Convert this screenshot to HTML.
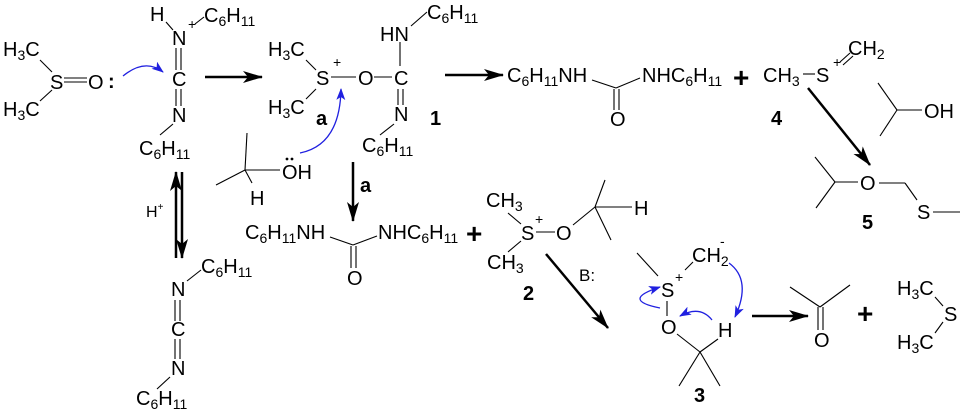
<!DOCTYPE html>
<html><head><meta charset="utf-8"><style>
html,body{margin:0;padding:0;background:#fff}
svg{display:block}
text{font-family:"Liberation Sans",sans-serif;font-size:20px;fill:#000}
tspan.s,text.s{font-size:14px}
.b{font-weight:bold}
line,path.l{stroke:#000;stroke-width:1.1;fill:none}
.bl{stroke:#2020e0;stroke-width:1.3;fill:none}
.ar{stroke:#000;stroke-width:2.5}
</style></head><body>
<svg width="960" height="409" viewBox="0 0 960 409" xmlns="http://www.w3.org/2000/svg">
<defs>
<marker id="ahb" markerWidth="20" markerHeight="12" refX="19" refY="6" orient="auto" markerUnits="userSpaceOnUse"><path d="M0,0 L20,6 L0,12 L5,6 z" fill="#000"/></marker>
<marker id="bh" markerWidth="12" markerHeight="9" refX="11" refY="4.5" orient="auto" markerUnits="userSpaceOnUse"><path d="M0,0 L12,4.5 L0,9 L3,4.5 z" fill="#2020e0"/></marker>
</defs>

<!-- DMSO -->
<text x="3" y="56">H<tspan class="s" dy="4">3</tspan><tspan dy="-4">C</tspan></text>
<text x="3" y="116">H<tspan class="s" dy="4">3</tspan><tspan dy="-4">C</tspan></text>
<line x1="40" y1="60" x2="52" y2="72"/><line x1="40" y1="101" x2="52" y2="90"/>
<text x="50" y="89">S</text>
<line x1="64" y1="78" x2="87" y2="78"/><line x1="64" y1="82" x2="87" y2="82"/>
<text x="88" y="89">O</text>
<text x="108" y="88" class="b">:</text>
<path class="bl" d="M123,76 Q145,58 163,72" marker-end="url(#bh)"/>

<!-- protonated carbodiimide -->
<text x="150" y="21">H</text>
<text x="204" y="22">C<tspan class="s" dy="4">6</tspan><tspan dy="-4">H</tspan><tspan class="s" dy="4">11</tspan></text>
<text x="188" y="29" class="s">+</text>
<line x1="166" y1="22" x2="173" y2="30"/><line x1="195" y1="24" x2="204" y2="17"/>
<text x="172" y="45">N</text>
<line x1="176" y1="48" x2="176" y2="70"/><line x1="181" y1="48" x2="181" y2="70"/>
<text x="172" y="86">C</text>
<line x1="176" y1="89" x2="176" y2="106"/><line x1="181" y1="89" x2="181" y2="106"/>
<text x="172" y="122">N</text>
<line x1="173" y1="124" x2="160" y2="135"/>
<text x="139" y="155">C<tspan class="s" dy="4">6</tspan><tspan dy="-4">H</tspan><tspan class="s" dy="4">11</tspan></text>

<line class="ar" x1="205" y1="77" x2="262" y2="77" marker-end="url(#ahb)"/>

<!-- intermediate 1 -->
<text x="268" y="56">H<tspan class="s" dy="4">3</tspan><tspan dy="-4">C</tspan></text>
<text x="268" y="114">H<tspan class="s" dy="4">3</tspan><tspan dy="-4">C</tspan></text>
<line x1="306" y1="60" x2="316" y2="70"/><line x1="306" y1="99" x2="316" y2="89"/>
<text x="316" y="85">S</text>
<text x="333" y="67" class="s">+</text>
<line x1="331" y1="77" x2="356" y2="77"/>
<text x="358" y="85">O</text>
<line x1="374" y1="77" x2="392" y2="77"/>
<text x="394" y="85">C</text>
<line x1="400" y1="42" x2="400" y2="66"/>
<text x="380" y="41">HN</text>
<line x1="411" y1="26" x2="427" y2="12"/>
<text x="427" y="19">C<tspan class="s" dy="4">6</tspan><tspan dy="-4">H</tspan><tspan class="s" dy="4">11</tspan></text>
<line x1="398" y1="89" x2="398" y2="105"/><line x1="403" y1="89" x2="403" y2="105"/>
<text x="394" y="121">N</text>
<line x1="394" y1="124" x2="380" y2="135"/>
<text x="362" y="152">C<tspan class="s" dy="4">6</tspan><tspan dy="-4">H</tspan><tspan class="s" dy="4">11</tspan></text>
<text x="316" y="125" class="b">a</text>
<text x="430" y="125" class="b">1</text>
<path class="bl" d="M300,153 Q340,145 341,89" marker-end="url(#bh)"/>

<!-- isopropanol -->
<line x1="247" y1="133" x2="245" y2="170"/><line x1="245" y1="170" x2="216" y2="185"/>
<line x1="245" y1="170" x2="280" y2="170"/><line x1="245" y1="170" x2="252" y2="183"/>
<text x="250" y="205">H</text>
<text x="282" y="179">OH</text>
<circle cx="287" cy="159" r="1.4"/><circle cx="292" cy="159" r="1.4"/>

<!-- arrow a -->
<line x1="353" y1="162" x2="353" y2="221" class="ar" marker-end="url(#ahb)"/>
<text x="360" y="192" class="b">a</text>

<!-- equilibrium -->
<line x1="176" y1="258" x2="176" y2="172" class="ar" marker-end="url(#ahb)"/>
<line x1="182" y1="172" x2="182" y2="258" class="ar" marker-end="url(#ahb)"/>
<text x="146" y="217" style="font-size:16px">H<tspan dy="-7" style="font-size:10px">+</tspan></text>

<!-- lower carbodiimide -->
<text x="201" y="273">C<tspan class="s" dy="4">6</tspan><tspan dy="-4">H</tspan><tspan class="s" dy="4">11</tspan></text>
<line x1="187" y1="281" x2="201" y2="270"/>
<text x="171" y="296">N</text>
<line x1="175" y1="300" x2="175" y2="321"/><line x1="180" y1="300" x2="180" y2="321"/>
<text x="171" y="336">C</text>
<line x1="175" y1="339" x2="175" y2="359"/><line x1="180" y1="339" x2="180" y2="359"/>
<text x="171" y="375">N</text>
<line x1="170" y1="377" x2="157" y2="389"/>
<text x="136" y="405">C<tspan class="s" dy="4">6</tspan><tspan dy="-4">H</tspan><tspan class="s" dy="4">11</tspan></text>

<!-- urea middle -->
<text x="245" y="239">C<tspan class="s" dy="4">6</tspan><tspan dy="-4">H</tspan><tspan class="s" dy="4">11</tspan><tspan dy="-4">NH</tspan></text>
<line x1="330" y1="237" x2="353" y2="245"/><line x1="353" y1="245" x2="377" y2="236"/>
<text x="378" y="239">NHC<tspan class="s" dy="4">6</tspan><tspan dy="-4">H</tspan><tspan class="s" dy="4">11</tspan></text>
<line x1="351" y1="246" x2="351" y2="268"/><line x1="356" y1="246" x2="356" y2="268"/>
<text x="347" y="285">O</text>
<text x="466" y="243" class="b" style="font-size:28px">+</text>

<!-- compound 2 -->
<text x="486" y="207">CH<tspan class="s" dy="4">3</tspan></text>
<text x="487" y="269">CH<tspan class="s" dy="4">3</tspan></text>
<line x1="508" y1="213" x2="521" y2="224"/><line x1="508" y1="252" x2="521" y2="241"/>
<text x="521" y="240">S</text>
<text x="535" y="224" class="s">+</text>
<line x1="536" y1="232" x2="555" y2="232"/>
<text x="556" y="240">O</text>
<line x1="573" y1="225" x2="595" y2="207"/>
<line x1="595" y1="207" x2="605" y2="180"/><line x1="595" y1="207" x2="632" y2="207"/><line x1="595" y1="207" x2="611" y2="240"/>
<text x="634" y="215">H</text>
<text x="523" y="300" class="b">2</text>
<line class="ar" x1="546" y1="254" x2="608" y2="328" marker-end="url(#ahb)"/>
<text x="579" y="281" style="font-size:17px">B:</text>

<!-- compound 3 -->
<line x1="637" y1="253" x2="658" y2="276"/>
<text x="661" y="297">S</text>
<text x="675" y="282" class="s">+</text>
<line x1="685" y1="270" x2="693" y2="262"/>
<text x="692" y="262">CH<tspan class="s" dy="4">2</tspan></text>
<text x="720" y="246" class="s">-</text>
<line x1="667" y1="301" x2="667" y2="316"/>
<text x="661" y="334">O</text>
<line x1="677" y1="334" x2="700" y2="352"/><line x1="700" y1="352" x2="718" y2="339"/>
<line x1="700" y1="352" x2="679" y2="386"/><line x1="700" y1="352" x2="720" y2="386"/>
<text x="718" y="337">H</text>
<text x="694" y="402" class="b">3</text>
<path class="bl" d="M660,308 Q620,300 660,287" marker-end="url(#bh)"/>
<path class="bl" d="M712,320 Q700,305 680,316" marker-end="url(#bh)"/>
<path class="bl" d="M729,263 Q752,280 735,317" marker-end="url(#bh)"/>

<line class="ar" x1="752" y1="316" x2="808" y2="316" marker-end="url(#ahb)"/>

<!-- acetone -->
<line x1="790" y1="287" x2="820" y2="307"/><line x1="820" y1="307" x2="850" y2="285"/>
<line x1="818" y1="307" x2="818" y2="330"/><line x1="823" y1="307" x2="823" y2="330"/>
<text x="814" y="347">O</text>
<text x="857" y="323" class="b" style="font-size:28px">+</text>
<text x="897" y="295">H<tspan class="s" dy="4">3</tspan><tspan dy="-4">C</tspan></text>
<text x="897" y="349">H<tspan class="s" dy="4">3</tspan><tspan dy="-4">C</tspan></text>
<line x1="935" y1="297" x2="943" y2="306"/><line x1="935" y1="333" x2="943" y2="322"/>
<text x="944" y="321">S</text>

<!-- top right -->
<line class="ar" x1="445" y1="75" x2="503" y2="75" marker-end="url(#ahb)"/>
<text x="507" y="82">C<tspan class="s" dy="4">6</tspan><tspan dy="-4">H</tspan><tspan class="s" dy="4">11</tspan><tspan dy="-4">NH</tspan></text>
<line x1="592" y1="80" x2="616" y2="88"/><line x1="616" y1="88" x2="640" y2="78"/>
<text x="642" y="82">NHC<tspan class="s" dy="4">6</tspan><tspan dy="-4">H</tspan><tspan class="s" dy="4">11</tspan></text>
<line x1="614" y1="89" x2="614" y2="110"/><line x1="619" y1="89" x2="619" y2="110"/>
<text x="610" y="126">O</text>
<text x="733" y="87" class="b" style="font-size:28px">+</text>
<text x="763" y="82">CH<tspan class="s" dy="4">3</tspan></text>
<line x1="803" y1="74" x2="815" y2="74"/>
<text x="816" y="82">S</text>
<text x="833" y="67" class="s">+</text>
<line x1="840" y1="62" x2="850" y2="53"/><line x1="843" y1="65" x2="853" y2="56"/>
<text x="848" y="55">CH<tspan class="s" dy="4">2</tspan></text>
<text x="771" y="125" class="b">4</text>
<line class="ar" x1="808" y1="88" x2="870" y2="165" marker-end="url(#ahb)"/>

<line x1="878" y1="83" x2="897" y2="110"/><line x1="897" y1="110" x2="922" y2="110"/><line x1="897" y1="110" x2="880" y2="136"/>
<text x="924" y="118">OH</text>

<line x1="815" y1="157" x2="835" y2="182"/><line x1="835" y1="182" x2="858" y2="182"/><line x1="835" y1="182" x2="816" y2="208"/>
<text x="860" y="190">O</text>
<line x1="879" y1="183" x2="905" y2="183"/><line x1="905" y1="183" x2="917" y2="200"/>
<text x="917" y="219">S</text>
<line x1="933" y1="212" x2="960" y2="212"/>
<text x="862" y="229" class="b">5</text>
</svg>
</body></html>
